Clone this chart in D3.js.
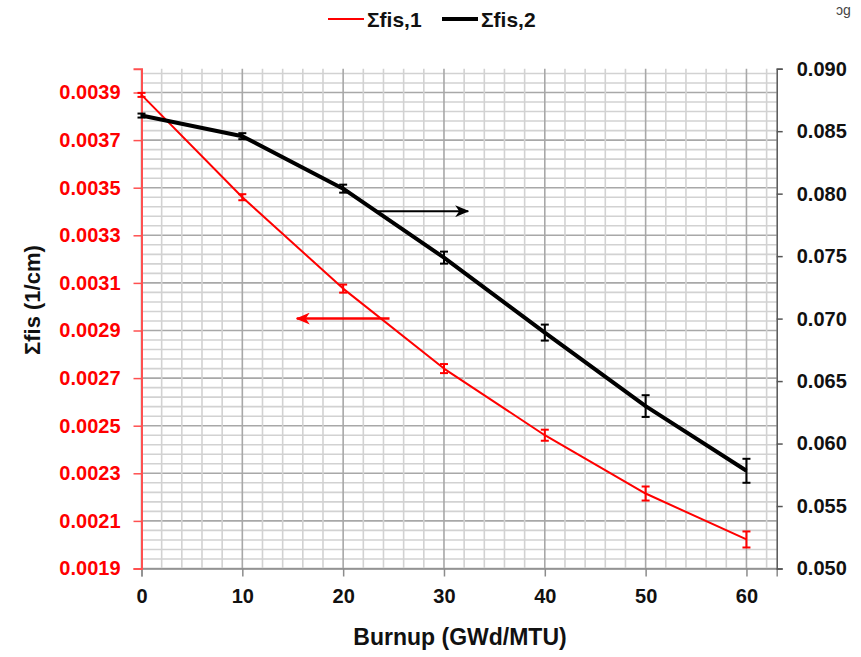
<!DOCTYPE html>
<html>
<head>
<meta charset="utf-8">
<script src="https://cdn.jsdelivr.net/npm/d3@7"></script>
<style>
  html, body { margin: 0; padding: 0; background: #fff; }
  svg { display: block; font-family: "Liberation Sans", Arial, sans-serif; }
</style>
</head>
<body>
<svg id="chart" width="861" height="657"></svg>
<script>
// Burnup points (GWd/MTU)
const burnup = [0, 10, 20, 30, 40, 50, 60];
// Fast-group fission cross section (left axis, 1/cm)
const sigFis1 = [0.00389, 0.00346, 0.003076, 0.00274, 0.00246, 0.002215, 0.002022];
const sigFis1Err = [0.0000084, 0.0000127, 0.0000169, 0.000019, 0.0000232, 0.0000295, 0.0000337];
// Thermal-group fission cross section (right axis, 1/cm)
const sigFis2 = [0.08625, 0.0846, 0.0804, 0.07488, 0.06888, 0.0630, 0.05782];
const sigFis2Err = [0.00016, 0.00024, 0.00032, 0.00048, 0.00064, 0.00087, 0.00096];
// Tick labels
const xTicks = [0, 10, 20, 30, 40, 50, 60];
const leftTicks = [0.0019, 0.0021, 0.0023, 0.0025, 0.0027, 0.0029, 0.0031, 0.0033, 0.0035, 0.0037, 0.0039];
const rightTicks = [0.050, 0.055, 0.060, 0.065, 0.070, 0.075, 0.080, 0.085, 0.090];
const seriesNames = ["Σfis,1", "Σfis,2"];

const svg = d3.select("#chart");
const L = 141.5, R = 776.7, T = 68.7, B = 568.5;

const x = d3.scaleLinear().domain([0, 63]).range([L, R]);
const yL = d3.scaleLinear().domain([0.0019, 0.0040]).range([B, T]);
const yR = d3.scaleLinear().domain([0.050, 0.090]).range([B, T]);

const RED = "#ff0000";
const grid = svg.append("g");

// horizontal gridlines (minor every 0.00004, major every 0.0002)
d3.range(0, 53).forEach(k => {
  const v = 0.0019 + k * 0.00004;
  const major = k % 5 === 0;
  grid.append("line")
    .attr("x1", L).attr("x2", R)
    .attr("y1", yL(v)).attr("y2", yL(v))
    .attr("stroke", major ? "#a8a8a8" : "#d2d2d2")
    .attr("stroke-width", 1.6);
});
// vertical gridlines (minor every 2, major every 10)
d3.range(0, 63, 2).forEach(v => {
  const major = v % 10 === 0;
  grid.append("line")
    .attr("x1", x(v)).attr("x2", x(v))
    .attr("y1", T).attr("y2", B)
    .attr("stroke", major ? "#a8a8a8" : "#d2d2d2")
    .attr("stroke-width", 1.6);
});

// bottom axis
const xAxis = svg.append("g").attr("transform", `translate(0,${B})`)
  .call(d3.axisBottom(x).tickValues(xTicks).tickSize(8).tickPadding(12).tickFormat(d3.format("d")));
xAxis.select(".domain").attr("stroke", "#8c8c8c").attr("stroke-width", 1.5);
xAxis.selectAll(".tick line").attr("stroke", "#8c8c8c").attr("stroke-width", 1.5);
xAxis.selectAll("text").attr("font-size", 20).attr("font-weight", "bold").attr("fill", "#111");

// left axis (red)
const lAxis = svg.append("g").attr("transform", `translate(${L},0)`)
  .call(d3.axisLeft(yL).tickValues(leftTicks).tickSize(8).tickPadding(13).tickFormat(d3.format(".4f")));
lAxis.select(".domain").attr("stroke", "#ff5050").attr("stroke-width", 2);
lAxis.selectAll(".tick line").attr("stroke", "#ff5050").attr("stroke-width", 1.5);
lAxis.selectAll("text").attr("font-size", 20).attr("font-weight", "bold").attr("fill", RED);

// right axis
const rAxis = svg.append("g").attr("transform", `translate(${R},0)`)
  .call(d3.axisRight(yR).tickValues(rightTicks).tickSize(6).tickPadding(14).tickFormat(d3.format(".3f")));
rAxis.select(".domain").attr("stroke", "#555").attr("stroke-width", 1.5);
rAxis.selectAll(".tick line").attr("stroke", "#555").attr("stroke-width", 1.5);
rAxis.selectAll("text").attr("font-size", 20).attr("font-weight", "bold").attr("fill", "#111");

// series
const pts1 = burnup.map((b, i) => ({ b, v: sigFis1[i], e: sigFis1Err[i] }));
const pts2 = burnup.map((b, i) => ({ b, v: sigFis2[i], e: sigFis2Err[i] }));

function drawSeries(pts, yS, color, width, capW, errW) {
  const g = svg.append("g");
  g.append("path").datum(pts)
    .attr("fill", "none").attr("stroke", color).attr("stroke-width", width)
    .attr("stroke-linejoin", "round")
    .attr("d", d3.line().x(d => x(d.b)).y(d => yS(d.v)));
  const eb = g.selectAll("g.err").data(pts).join("g").attr("class", "err");
  eb.append("line")
    .attr("x1", d => x(d.b)).attr("x2", d => x(d.b))
    .attr("y1", d => yS(d.v - d.e)).attr("y2", d => yS(d.v + d.e))
    .attr("stroke", color).attr("stroke-width", errW);
  [-1, 1].forEach(s => {
    eb.append("line")
      .attr("x1", d => x(d.b) - capW / 2).attr("x2", d => x(d.b) + capW / 2)
      .attr("y1", d => yS(d.v + s * d.e)).attr("y2", d => yS(d.v + s * d.e))
      .attr("stroke", color).attr("stroke-width", errW);
  });
}
drawSeries(pts1, yL, RED, 2, 8, 2);
drawSeries(pts2, yR, "#000", 4, 8, 2);

// arrows pointing to each series' axis
const defs = svg.append("defs");
function marker(id, color) {
  defs.append("marker").attr("id", id)
    .attr("viewBox", "0 0 14 12").attr("refX", 13).attr("refY", 6)
    .attr("markerWidth", 14).attr("markerHeight", 12)
    .attr("markerUnits", "userSpaceOnUse").attr("orient", "auto")
    .append("path").attr("d", "M0,0 L14,6 L0,12 L4,6 Z").attr("fill", color);
}
marker("arrBlack", "#000");
marker("arrRed", RED);
svg.append("line")
  .attr("x1", x(23.2)).attr("x2", x(32.4))
  .attr("y1", yR(0.0786)).attr("y2", yR(0.0786))
  .attr("stroke", "#000").attr("stroke-width", 2).attr("marker-end", "url(#arrBlack)");
svg.append("line")
  .attr("x1", x(24.6)).attr("x2", x(15.4))
  .attr("y1", yL(0.00295)).attr("y2", yL(0.00295))
  .attr("stroke", RED).attr("stroke-width", 2.5).attr("marker-end", "url(#arrRed)");

// axis titles
svg.append("text")
  .attr("transform", `translate(40,355) rotate(-90)`)
  .attr("text-anchor", "start").attr("font-size", 22).attr("font-weight", "bold").attr("fill", "#111")
  .text("Σfis (1/cm)");
svg.append("text")
  .attr("x", 460).attr("y", 645)
  .attr("text-anchor", "middle").attr("font-size", 23).attr("font-weight", "bold").attr("fill", "#111")
  .text("Burnup (GWd/MTU)");

// legend
const legend = svg.append("g");
[{ name: seriesNames[0], color: RED, w: 2, x0: 328 }, { name: seriesNames[1], color: "#000", w: 4, x0: 442 }]
  .forEach(d => {
    legend.append("line").attr("x1", d.x0).attr("x2", d.x0 + 36).attr("y1", 19).attr("y2", 19)
      .attr("stroke", d.color).attr("stroke-width", d.w);
    legend.append("text").attr("x", d.x0 + 39).attr("y", 27)
      .attr("font-size", 21).attr("font-weight", "bold").attr("fill", "#111").text(d.name);
  });

// small corner mark
svg.append("text").attr("x", 836).attr("y", 15).attr("font-size", 14).attr("fill", "#444").text("ɔg");
</script>
</body>
</html>
